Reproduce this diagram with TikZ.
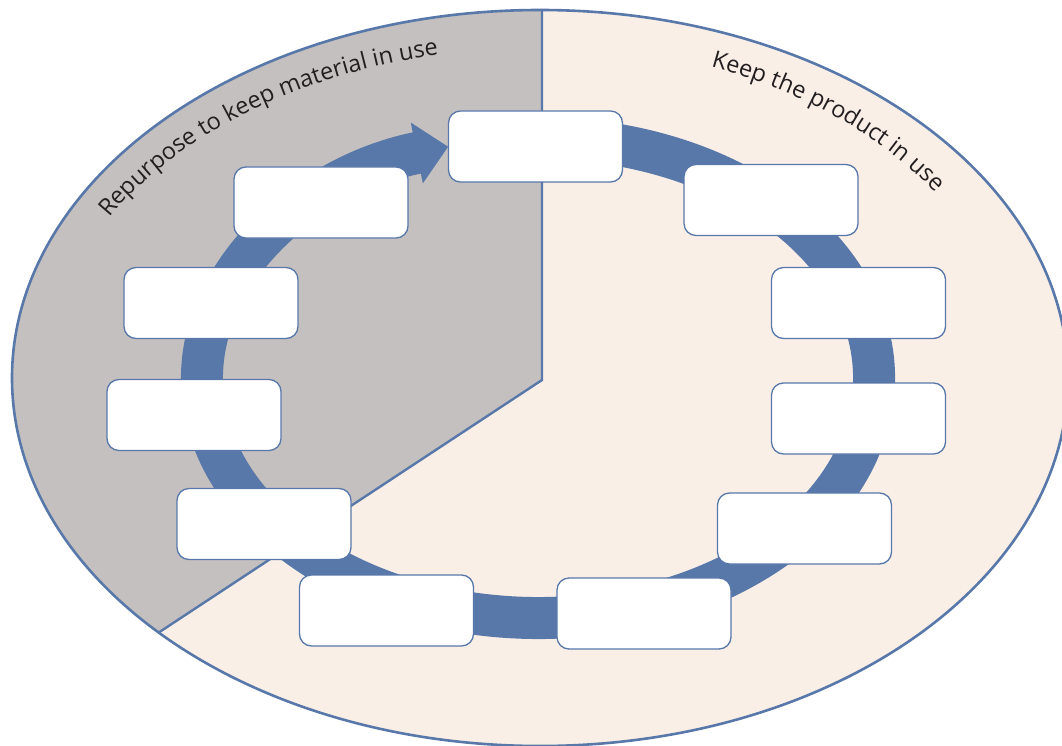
\documentclass[tikz,border=0pt]{standalone}
\usepackage{fontspec}
\setmainfont{Open Sans}
\usetikzlibrary{arrows.meta,decorations.text,calc}
\definecolor{ringblue}{HTML}{5878AA}
\definecolor{graybg}{HTML}{C4C0BF}
\definecolor{palebg}{HTML}{FAEFE7}
\definecolor{textdark}{HTML}{231F20}
\begin{document}
\begin{tikzpicture}[x=1pt,y=-1pt,
  stagebox/.style={draw=ringblue, line width=1.3pt, fill=white, rounded corners=12pt,
    minimum width=174pt, minimum height=71pt, inner sep=0pt},
  outline/.style={draw=ringblue, line width=2.6pt},
  ring/.style={draw=ringblue, line width=42pt},
  curvedlabel/.style={decorate, decoration={text along path, text align=left}}]
\useasboundingbox (0,0) rectangle (1062,746);
\coordinate (C) at (540,378);
\coordinate (R) at (538,378);
\coordinate (D0) at (542,-20);
\coordinate (D1) at (542,380);
\coordinate (D2) at (158,633);
% background halves
\begin{scope}
  \clip (C) ellipse [x radius=528, y radius=368];
  \fill[palebg] (C) ellipse [x radius=528, y radius=368];
  \fill[graybg] (D0) -- (D1) -- ($(D1)!1.3!(D2)$) -- (-20,709) -- (-20,-20) -- cycle;
  \draw[outline, line width=2.4pt] (D0) -- (D1) -- ($(D1)!1.3!(D2)$);
\end{scope}
\draw[outline] (C) ellipse [x radius=528, y radius=368];
% ring with arrow
\draw[ring, -{Triangle[length=32pt,width=60pt]}] ($(R)+(-80:336 and 240)$)
  arc[start angle=-80, end angle=254.5, x radius=336, y radius=240];
% curved labels
\path[curvedlabel, decoration={text={|\fontsize{23.5}{28}\selectfont\color{textdark}|Repurpose to keep material in use}}]
  ($(R)+(-151:490 and 330)$) arc[start angle=-151, end angle=-75, x radius=490, y radius=330];
\path[curvedlabel, decoration={text={|\fontsize{23.5}{28}\selectfont\color{textdark}|Keep the product in use}}]
  ($(R)+(-68.8:478 and 334)$) arc[start angle=-68.8, end angle=-5, x radius=478, y radius=334];
% boxes
\node[stagebox] (b1) at (535.5,146.5) {};
\node[stagebox] (b2) at (771,200) {};
\node[stagebox] (b3) at (858.5,303) {};
\node[stagebox] (b4) at (858.5,418.5) {};
\node[stagebox] (b5) at (804.5,528.5) {};
\node[stagebox] (b6) at (644,613.5) {};
\node[stagebox] (b7) at (386.5,610.5) {};
\node[stagebox] (b8) at (264,524) {};
\node[stagebox] (b9) at (194,415) {};
\node[stagebox] (b10) at (211,303) {};
\node[stagebox] (b11) at (321,202.5) {};
\end{tikzpicture}
\end{document}
